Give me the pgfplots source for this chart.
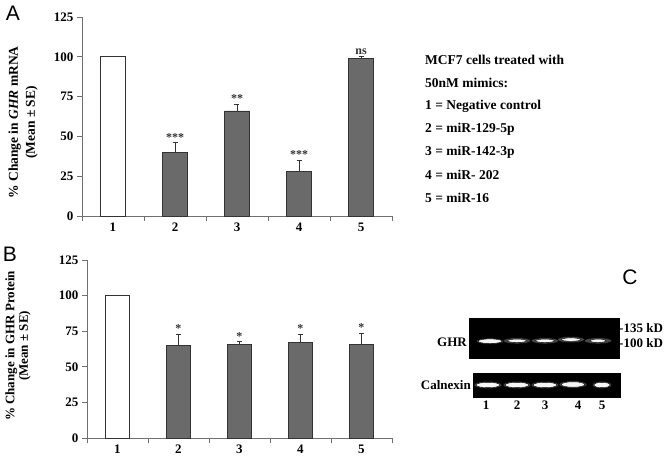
\documentclass[border=0pt]{standalone}
\usepackage{pgfplots}
\pgfplotsset{compat=1.18}
\usepackage{fontspec}
\setmainfont{Liberation Serif}
\newfontfamily\arial{Liberation Sans}

\definecolor{barfill}{HTML}{6A6A6A}
\definecolor{baredge}{HTML}{333333}
\definecolor{axisgray}{HTML}{707070}

\pgfplotsset{
  panel/.style={
    scale only axis,
    xmin=0.5, xmax=5.5, ymin=0, ymax=125,
    axis x line*=bottom, axis y line*=left,
    axis line style={axisgray, line width=0.8pt},
    tick style={axisgray, line width=0.8pt},
    tick align=outside, major tick length=5pt,
    xtick={0.5,1.5,2.5,3.5,4.5,5.5}, xticklabels={},
    extra x ticks={1,2,3,4,5},
    extra x tick style={major tick length=0pt},
    extra x tick labels={1,2,3,4,5},
    ytick={0,25,50,75,100,125},
    tick label style={font=\bfseries\fontsize{13}{13}\selectfont},
    x tick label style={yshift=-3pt},
    /pgf/number format/assume math mode=true,
    clip=false,
  },
  greybar/.style={ybar, fill=barfill, draw=baredge, line width=0.8pt,
    error bars/y dir=plus, error bars/y explicit,
    error bars/error bar style={baredge, line width=0.9pt},
    error bars/error mark options={rotate=90, baredge, mark size=2.5pt, line width=0.9pt}},
  whitebar/.style={ybar, fill=white, draw=baredge, line width=0.8pt},
  stars/.style={draw=none, mark=none, nodes near coords,
    point meta=explicit symbolic,
    every node near coord/.append style={font=\bfseries\fontsize{12}{12}\selectfont,
      anchor=south, inner sep=1.5pt, text=baredge}},
  blot/.style={scale only axis, axis background/.style={fill=black},
    axis line style={black}, xtick=\empty, ytick=\empty,
    ymin=0, ymax=1, clip=true},
  band/.style={only marks, mark=*, mark options={draw=none, fill=white!92!gray, xscale=#1}},
  glow/.style={only marks, mark=*, mark options={draw=none, fill=gray!55!black, xscale=#1}},
}

% panel A: mRNA
\pgfplotstableread{
x y e
2 40 6
3 66 4
4 28 7
5 99 1.5
}\mrna
\pgfplotstableread{
x y m
2 46 ***
3 70 **
4 35 ***
5 100.5 ns
}\mrnastars

% panel B: protein
\pgfplotstableread{
x y e
2 65 8
3 66 1.5
4 67 6
5 66 7.5
}\protein
\pgfplotstableread{
x y m
2 73 *
3 67.5 *
4 73 *
5 73.5 *
}\proteinstars

\begin{document}
\begin{tikzpicture}[x=1pt, y=1pt]
\useasboundingbox (0,0) rectangle (667,460);

% A
\begin{axis}[panel, at={(82pt,244pt)}, anchor=south west,
  width=310pt, height=199pt,
  ylabel={\% Change in \textit{GHR} mRNA\\[2pt](Mean ± SE)},
  ylabel style={align=center, font=\bfseries\fontsize{13.5}{15}\selectfont,
    at={(axis description cs:-0.19,0.47)}, anchor=center}]
\addplot[whitebar, bar width=25pt] coordinates {(1,100)};
\addplot[bar width=25pt, greybar] table[x=x, y=y, y error=e] {\mrna};
\addplot[stars] table[x=x, y=y, meta=m] {\mrnastars};
\end{axis}

% B
\begin{axis}[panel, at={(87pt,22pt)}, anchor=south west,
  width=305pt, height=178pt,
  ylabel={\% Change in GHR Protein\\(Mean ± SE)},
  ylabel style={align=center, font=\bfseries\fontsize{13}{13.5}\selectfont,
    at={(axis description cs:-0.226,0.517)}, anchor=center}]
\addplot[whitebar, bar width=24pt] coordinates {(1,100)};
\addplot[bar width=24pt, greybar] table[x=x, y=y, y error=e] {\protein};
\addplot[stars] table[x=x, y=y, meta=m] {\proteinstars};
\end{axis}

% C: GHR blot
\begin{axis}[blot, at={(469pt,102pt)}, anchor=south west,
  width=150pt, height=40pt, xmin=469, xmax=619]
\addplot[glow=4.6, mark size=3pt] coordinates {(490,0.42) (517,0.43) (545,0.43) (571,0.46) (598,0.43)};
\addplot[band=5.2, mark size=2.3pt] coordinates {(490,0.42)};
\addplot[band=5.6, mark size=1.7pt] coordinates {(517,0.43) (545,0.43) (571,0.46)};
\addplot[band=4.6, mark size=1.7pt] coordinates {(598,0.43)};
\end{axis}

% C: calnexin blot
\begin{axis}[blot, at={(473pt,63pt)}, anchor=south west,
  width=147pt, height=24pt, xmin=473, xmax=620]
\addplot[glow=3.9, mark size=3.6pt] coordinates {(488,0.5) (517,0.5) (545,0.5) (573,0.52)};
\addplot[glow=2.7, mark size=3.6pt] coordinates {(602,0.5)};
\addplot[band=4.4, mark size=2.7pt] coordinates {(488,0.5) (517,0.5) (545,0.5) (573,0.52)};
\addplot[band=3.0, mark size=2.7pt] coordinates {(602,0.5)};
\end{axis}

% text
\node[font=\arial\fontsize{21}{21}\selectfont] at (13,447) {A};
\node[font=\arial\fontsize{21}{21}\selectfont] at (10,206) {B};
\node[font=\arial\fontsize{21}{21}\selectfont] at (630,183) {C};

\begin{scope}[every node/.style={anchor=west, inner sep=0pt,
    font=\bfseries\fontsize{13.5}{13.5}\selectfont}]
\node at (425,400) {MCF7 cells treated with};
\node at (425,377) {50nM mimics:};
\node at (425,354) {1 = Negative control};
\node at (425,331) {2 = miR-129-5p};
\node at (425,308) {3 = miR-142-3p};
\node at (425,285) {4 = miR- 202};
\node at (425,262) {5 = miR-16};
\end{scope}

\begin{scope}[every node/.style={inner sep=0pt,
    font=\bfseries\fontsize{13}{13}\selectfont}]
\node[anchor=east] at (467,118) {GHR};
\node[anchor=east] at (471,75) {Calnexin};
\node[anchor=west] at (619,132) {-135 kD};
\node[anchor=west] at (619,117) {-100 kD};
\node at (486,55) {1};
\node at (517,55) {2};
\node at (545,55) {3};
\node at (578,55) {4};
\node at (602,55) {5};
\end{scope}
\end{tikzpicture}
\end{document}
